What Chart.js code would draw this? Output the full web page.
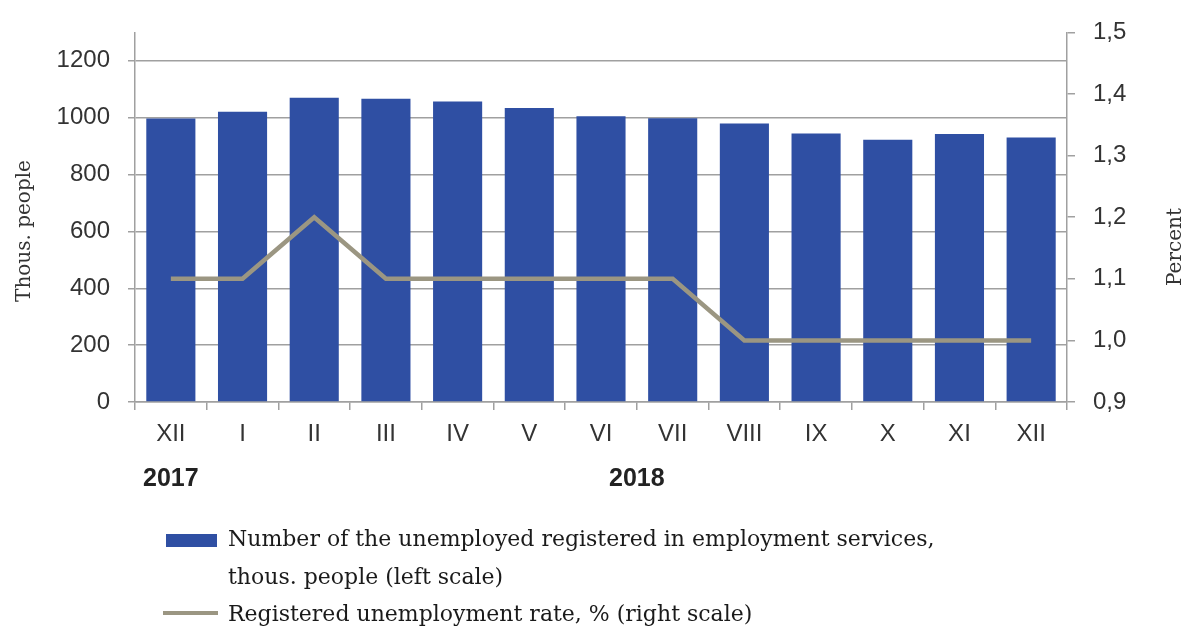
<!DOCTYPE html>
<html>
<head>
<meta charset="utf-8">
<script src="https://cdn.jsdelivr.net/npm/chart.js@4/dist/chart.umd.min.js"></script>
<style>
  html, body { margin: 0; padding: 0; background: #fff; }
  canvas { display: block; }
</style>
</head>
<body>
<canvas id="myChart" width="1184" height="626"></canvas>
<script>
// data
const months = ['XII', 'I', 'II', 'III', 'IV', 'V', 'VI', 'VII', 'VIII', 'IX', 'X', 'XI', 'XII'];
const unemployed = [997, 1021, 1070, 1067, 1057, 1034, 1005, 998, 980, 944, 922, 943, 930];
const rate = [1.1, 1.1, 1.2, 1.1, 1.1, 1.1, 1.1, 1.1, 1.0, 1.0, 1.0, 1.0, 1.0];
const years = [{ text: '2017', from: 0, to: 0 }, { text: '2018', from: 6, to: 7 }];
const leftTitle = 'Thous. people';
const rightTitle = 'Percent';
const legendLines = [
    ['Number of the unemployed registered in employment services,', 'thous. people (left scale)'],
    ['Registered unemployment rate, % (right scale)']
];

const barColor = '#2f4fa3';
const lineColor = '#9b9682';
const gridColor = '#a0a0a0';
const tickFont = { family: 'Liberation Sans', size: 24 };

// years, axis titles and legend under the chart
const extras = {
    id: 'extras',
    afterDraw(chart) {
        const ctx = chart.ctx;
        const x = chart.scales.x;
        ctx.save();
        ctx.fillStyle = '#222';
        ctx.textAlign = 'center';
        ctx.textBaseline = 'middle';
        ctx.font = 'bold 25px "Liberation Sans"';
        years.forEach(y => {
            const px = (x.getPixelForValue(y.from) + x.getPixelForValue(y.to)) / 2;
            ctx.fillText(y.text, px, 479);
        });

        // vertical titles
        ctx.font = '20px "DejaVu Serif"';
        ctx.fillStyle = '#333';
        ctx.save();
        ctx.translate(25, 231);
        ctx.rotate(-Math.PI / 2);
        ctx.fillText(leftTitle, 0, 0);
        ctx.restore();
        ctx.save();
        ctx.translate(1176, 247);
        ctx.rotate(-Math.PI / 2);
        ctx.fillText(rightTitle, 0, 0);
        ctx.restore();

        // legend
        const ds = chart.data.datasets;
        ctx.fillStyle = ds[0].backgroundColor;
        ctx.fillRect(166, 534, 51, 13);
        ctx.strokeStyle = ds[1].borderColor;
        ctx.lineWidth = 4;
        ctx.beginPath();
        ctx.moveTo(163, 613);
        ctx.lineTo(218, 613);
        ctx.stroke();

        ctx.fillStyle = '#1a1a1a';
        ctx.textAlign = 'left';
        ctx.font = '22px "DejaVu Serif"';
        ctx.fillText(legendLines[0][0], 228, 540);
        ctx.fillText(legendLines[0][1], 228, 578);
        ctx.fillText(legendLines[1][0], 228, 615);
        ctx.restore();
    }
};

const ctx = document.getElementById('myChart').getContext('2d');
const myChart = new Chart(ctx, {
    type: 'bar',
    data: {
        labels: months,
        datasets: [{
            label: 'Number of the unemployed registered in employment services, thous. people (left scale)',
            data: unemployed,
            backgroundColor: barColor,
            barPercentage: 0.685,
            categoryPercentage: 1,
            yAxisID: 'y',
            order: 1
        }, {
            type: 'line',
            label: 'Registered unemployment rate, % (right scale)',
            data: rate,
            borderColor: lineColor,
            backgroundColor: lineColor,
            borderWidth: 4.5,
            pointRadius: 0,
            tension: 0,
            yAxisID: 'y1',
            order: 0
        }]
    },
    options: {
        responsive: false,
        animation: false,
        layout: { padding: { top: 30 } },
        plugins: {
            legend: { display: false },
            tooltip: { enabled: false }
        },
        scales: {
            x: {
                grid: { offset: true, drawOnChartArea: false, color: gridColor, lineWidth: 1.5, tickLength: 8 },
                border: { color: gridColor, width: 1.5 },
                ticks: { font: tickFont, color: '#333', padding: 10 },
                afterFit(scale) { scale.height = 224; }
            },
            y: {
                position: 'left',
                min: 0,
                max: 1300,
                grid: { color: gridColor, lineWidth: 1.5, tickLength: 7 },
                border: { color: gridColor, width: 1.5 },
                ticks: { stepSize: 200, font: tickFont, color: '#333', padding: 18, callback: v => String(v) },
                afterBuildTicks(scale) { scale.ticks = scale.ticks.filter(t => t.value <= 1200); },
                afterFit(scale) { scale.width = 135; }
            },
            y1: {
                position: 'right',
                min: 0.9,
                max: 1.5,
                grid: { drawOnChartArea: false, color: gridColor, lineWidth: 1.5, tickLength: 8 },
                border: { color: gridColor, width: 1.5 },
                ticks: {
                    stepSize: 0.1,
                    font: tickFont,
                    color: '#333',
                    padding: 18,
                    callback: v => v.toFixed(1).replace('.', ',')
                },
                afterFit(scale) { scale.width = 117; }
            }
        }
    },
    plugins: [extras]
});
</script>
</body>
</html>
